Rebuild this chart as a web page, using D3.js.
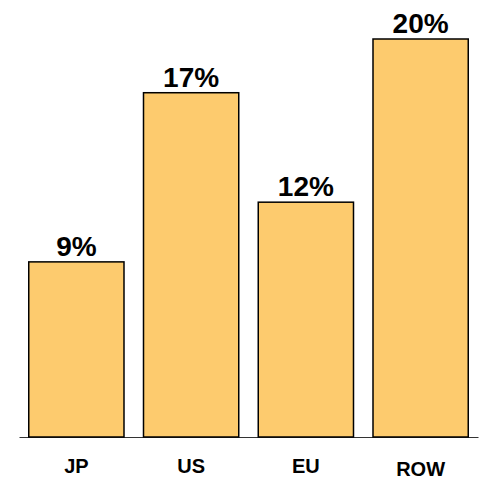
<!DOCTYPE html>
<html>
<head>
<meta charset="utf-8">
<script src="https://cdn.jsdelivr.net/npm/d3@7"></script>
<style>
  body { margin: 0; background: #fff; }
  text { font-family: "Liberation Sans", Arial, sans-serif; font-weight: bold; }
</style>
</head>
<body>
<div id="chart"></div>
<script>
// regions and their share (labels are rounded)
const regions = ["JP", "US", "EU", "ROW"];
const shares = [8.8, 17.3, 11.8, 20];

const width = 486, height = 480;
const margin = { top: 39, right: 8, bottom: 43, left: 19 };

const svg = d3.select("#chart")
    .append("svg")
    .attr("width", width)
    .attr("height", height);

const x = d3.scaleBand()
    .domain(regions)
    .range([margin.left, width - margin.right])
    .paddingInner(0.17)
    .paddingOuter(0.085);

const y = d3.scaleLinear()
    .domain([0, d3.max(shares)])
    .range([height - margin.bottom, margin.top]);

const data = regions.map((r, i) => ({ region: r, value: shares[i] }));

// baseline axis
const axis = d3.axisBottom(x).tickSize(0).tickFormat("");
svg.append("g")
    .attr("transform", `translate(0,${y(0)})`)
    .call(axis)
    .call(g => g.select(".domain").attr("stroke", "#333").attr("stroke-width", 1));

// bars
svg.selectAll("rect.bar")
    .data(data)
    .join("rect")
    .attr("class", "bar")
    .attr("x", d => x(d.region))
    .attr("y", d => y(d.value))
    .attr("width", x.bandwidth())
    .attr("height", d => y(0) - y(d.value))
    .attr("fill", "#fdcb6e")
    .attr("stroke", "#000")
    .attr("stroke-width", 1.5);

// value labels
svg.selectAll("text.val")
    .data(data)
    .join("text")
    .attr("class", "val")
    .attr("x", d => x(d.region) + x.bandwidth() / 2)
    .attr("y", d => y(d.value) - 6)
    .attr("text-anchor", "middle")
    .style("font-size", "28px")
    .text(d => Math.round(d.value) + "%");

// category labels
svg.selectAll("text.cat")
    .data(data)
    .join("text")
    .attr("class", "cat")
    .attr("x", d => x(d.region) + x.bandwidth() / 2)
    .attr("y", d => d.region === "ROW" ? 476 : 473)
    .attr("text-anchor", "middle")
    .style("font-size", "20px")
    .text(d => d.region);
</script>
</body>
</html>
